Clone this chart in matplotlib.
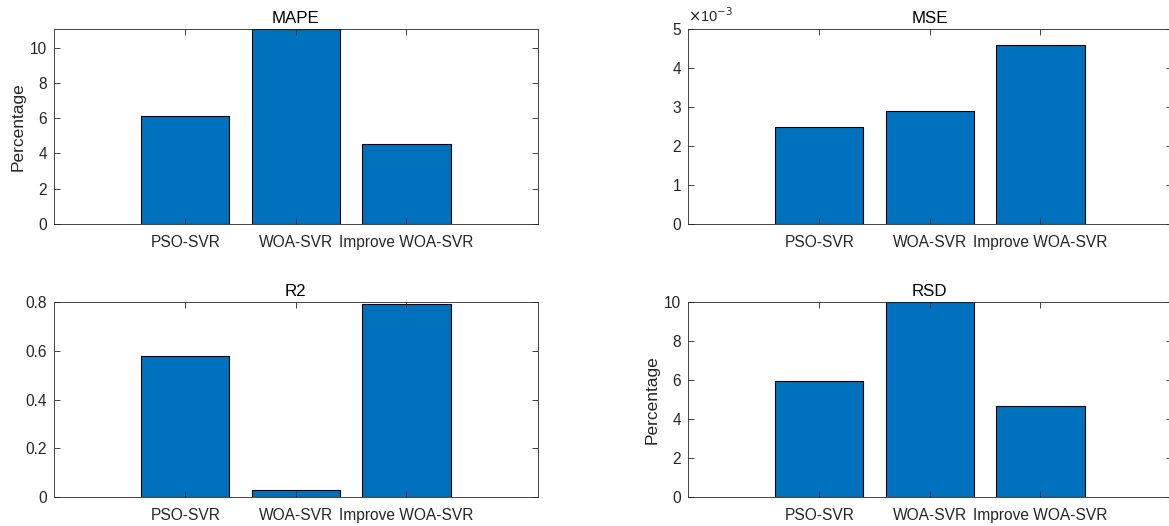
import matplotlib
matplotlib.use("Agg")
import matplotlib.pyplot as plt
from matplotlib.ticker import FuncFormatter

plt.rcParams['font.family'] = ['Liberation Sans', 'DejaVu Sans']

categories = ["PSO-SVR", "WOA-SVR", "Improve WOA-SVR"]
mape = [6.14, 11.06, 4.55]
mse = [0.0025, 0.0029, 0.0046]
r2 = [0.578, 0.030, 0.792]
rsd = [5.96, 9.98, 4.65]

BAR = '#0072BD'
INK = '#262626'
W, H = 1169, 526

fig = plt.figure(figsize=(W / 100, H / 100), dpi=100)

def make_ax(left_px, top_px, right_px, bottom_px):
    return fig.add_axes([left_px / W, 1 - bottom_px / H,
                         (right_px - left_px) / W, (bottom_px - top_px) / H])

panels = [
    (make_ax(54, 29, 537.5, 224), mape, "MAPE", (0, 11.06), [0, 2, 4, 6, 8, 10], "Percentage"),
    (make_ax(688, 29, 1171.5, 224), mse, "MSE", (0, 0.005), [0, 0.001, 0.002, 0.003, 0.004, 0.005], None),
    (make_ax(54, 302, 537.5, 497), r2, "R2", (0, 0.8), [0, 0.2, 0.4, 0.6, 0.8], None),
    (make_ax(688, 302, 1171.5, 497), rsd, "RSD", (0, 10), [0, 2, 4, 6, 8, 10], "Percentage"),
]

x = list(range(1, len(categories) + 1))
for ax, vals, title, ylim, yt, ylabel in panels:
    ax.bar(x, vals, width=0.8, color=BAR, edgecolor='black', linewidth=0.8, zorder=1)
    ax.set_xlim(-0.187, 4.187)
    ax.set_ylim(*ylim)
    ax.set_xticks(x)
    ax.set_xticklabels(categories)
    ax.set_yticks(yt)
    ax.tick_params(direction='in', length=4, width=0.6, colors=INK, labelsize=11.2,
                   top=True, right=True, pad=5)
    ax.tick_params(axis='x', pad=8)
    for sp in ax.spines.values():
        sp.set_color(INK)
        sp.set_linewidth(0.6)
        sp.set_zorder(3)
    ax.set_title(title, fontsize=12.2, color='black', pad=4)
    if ylabel:
        ax.set_ylabel(ylabel, fontsize=12.5, color=INK, labelpad=3)

ax_mse = panels[1][0]
ax_mse.yaxis.set_major_formatter(FuncFormatter(lambda v, p: f"{v * 1e3:g}"))
ax_mse.text(0.0, 1.02, r"$\times$10$^{-3}$", transform=ax_mse.transAxes,
            fontsize=10.5, color=INK, ha='left', va='bottom')

ax_r2 = panels[2][0]
ax_r2.yaxis.set_major_formatter(FuncFormatter(lambda v, p: "0" if v == 0 else f"{v:.1f}"))

fig.savefig("out.png", dpi=100)
